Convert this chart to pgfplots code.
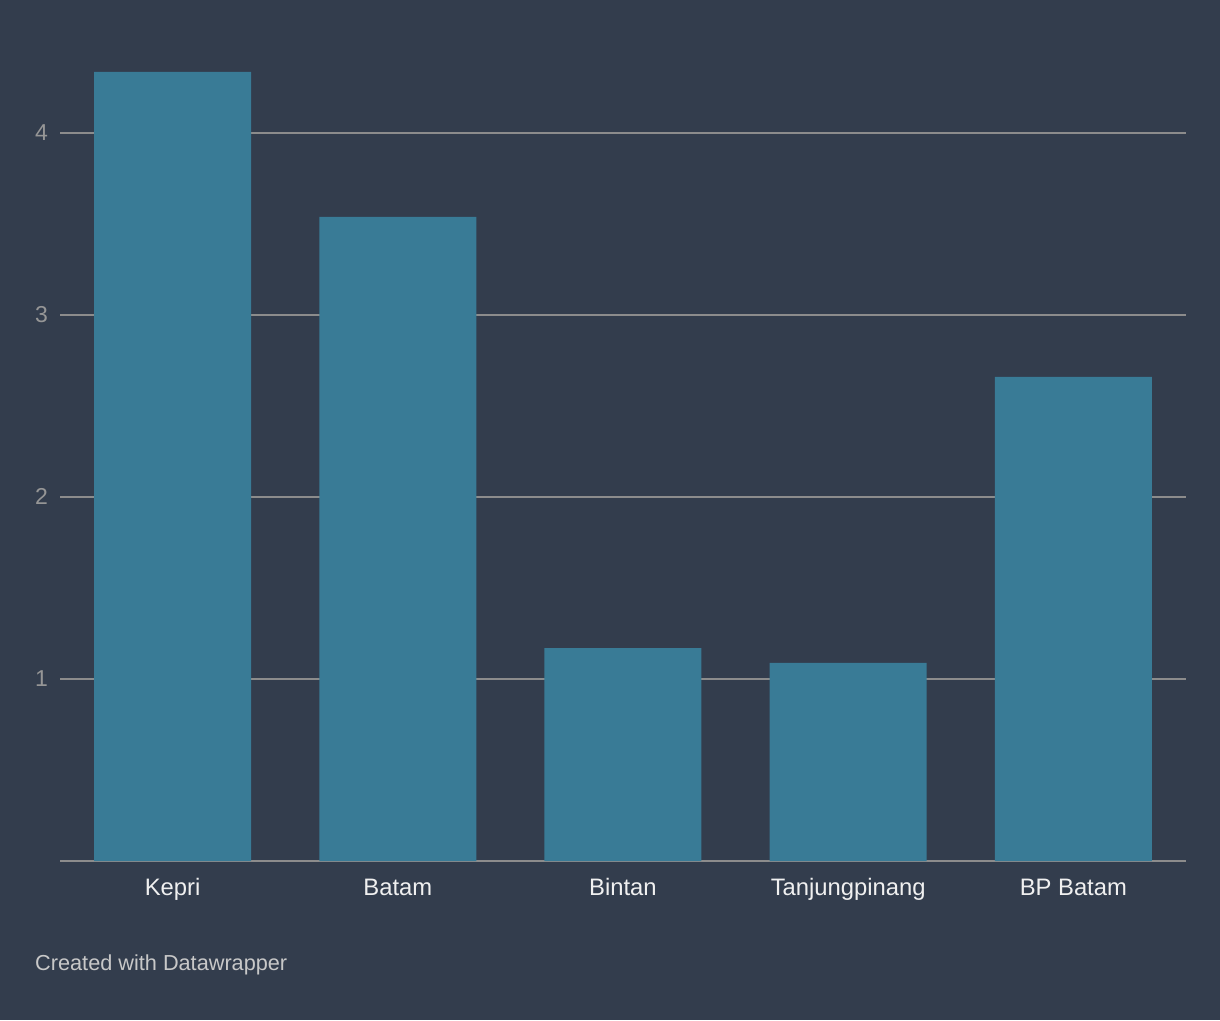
\documentclass[border=0pt]{standalone}
\usepackage{fontspec}
\setmainfont{Liberation Sans}
\usepackage{pgfplots}
\pgfplotsset{compat=1.18}
\definecolor{bgc}{RGB}{51,61,77}
\definecolor{barc}{RGB}{57,123,150}
\definecolor{gridc}{RGB}{140,140,140}
\definecolor{xlab}{RGB}{240,240,240}
\definecolor{ylab}{RGB}{150,150,150}
\definecolor{credc}{RGB}{200,200,200}
\begin{document}
\begin{tikzpicture}
\fill[bgc] (-60pt,-159pt) rectangle (1160pt,861pt);
\begin{axis}[
  at={(0pt,0pt)}, anchor=south west,
  scale only axis, width=1126pt, height=801pt,
  xmin=-0.5, xmax=4.5, ymin=0, ymax=4.4,
  axis x line*=bottom, axis y line*=left,
  x axis line style={draw=gridc, line width=1.5pt, -},
  y axis line style={draw=none},
  major tick length=0pt,
  xtick={0,1,2,3,4},
  xticklabels={Kepri,Batam,Bintan,Tanjungpinang,BP Batam},
  ytick={1,2,3,4},
  /pgf/number format/assume math mode=true,
  ymajorgrids,
  grid style={draw=gridc, line width=1.5pt},
  xticklabel style={font=\fontsize{23.8}{27}\selectfont, text=xlab, anchor=base, inner sep=0pt, yshift=-34pt},
  yticklabel style={font=\fontsize{23}{27}\selectfont, text=ylab, anchor=east, inner sep=0pt, xshift=-12pt},
  ybar, bar width=157pt,
]
\addplot[fill=barc, draw=none] coordinates {(0,4.335) (1,3.538) (2,1.170) (3,1.088) (4,2.660)};
\end{axis}
\node[anchor=base west, inner sep=0pt, text=credc, font=\fontsize{21.7}{25}\selectfont] at (-25pt,-109pt) {Created with Datawrapper};
\pgfresetboundingbox
\useasboundingbox (-60pt,-159pt) rectangle (1160pt,861pt);
\end{tikzpicture}
\end{document}
